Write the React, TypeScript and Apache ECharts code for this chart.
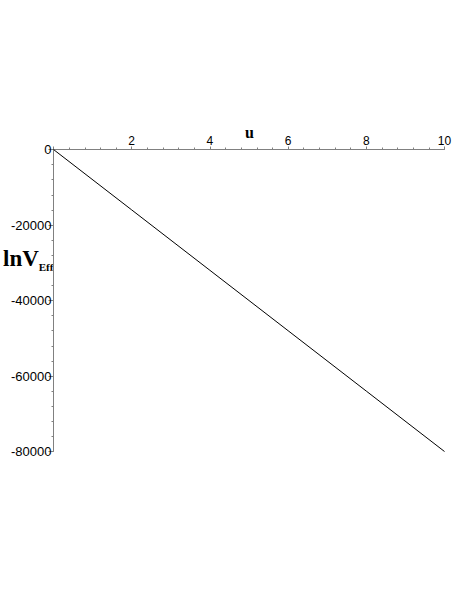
import React, { useEffect, useRef } from "react";
import * as echarts from "echarts";

const uValues = [0, 2, 4, 6, 8, 10];
const lnVEff = [0, -16000, -32000, -48000, -64000, -80000];
const xTicks = [2, 4, 6, 8, 10];
const yTicks = [0, -20000, -40000, -60000, -80000];

export default function App() {
  const ref = useRef<HTMLDivElement>(null);
  useEffect(() => {
    if (!ref.current) return;
    const chart = echarts.init(ref.current, undefined, { renderer: "svg" });
    const axisColor = "#808080";
    chart.setOption({
      animation: false,
      backgroundColor: "#ffffff",
      grid: { left: 53.5, right: 12.5, top: 149.5, bottom: 139.5, containLabel: false },
      xAxis: {
        type: "value",
        min: 0,
        max: 10,
        interval: 2,
        position: "top",
        axisLine: { show: true, onZero: false, lineStyle: { color: axisColor, width: 1 } },
        axisTick: { show: true, length: 3, inside: false, lineStyle: { color: axisColor } },
        minorTick: { show: true, splitNumber: 5, length: 2, lineStyle: { color: axisColor } },
        splitLine: { show: false },
        axisLabel: {
          color: "#000",
          fontFamily: "Liberation Sans",
          fontSize: 12,
          margin: 3,
          formatter: (v: number) => (xTicks.includes(v) ? String(v) : ""),
        },
      },
      yAxis: {
        type: "value",
        min: -80000,
        max: 0,
        interval: 20000,
        axisLine: { show: true, onZero: false, lineStyle: { color: axisColor, width: 1 } },
        axisTick: { show: true, length: 5, lineStyle: { color: axisColor } },
        minorTick: { show: true, splitNumber: 5, length: 2, lineStyle: { color: axisColor } },
        splitLine: { show: false },
        axisLabel: {
          color: "#000",
          fontFamily: "Liberation Sans",
          fontSize: 13,
          margin: 2,
          formatter: (v: number) => (yTicks.includes(v) ? String(v) : ""),
        },
      },
      series: [
        {
          type: "line",
          data: uValues.map((u, i) => [u, lnVEff[i]]),
          showSymbol: false,
          lineStyle: { color: "#000", width: 1 },
        },
      ],
      graphic: [
        {
          type: "text",
          left: 245,
          top: 124,
          style: {
            text: "u",
            font: "bold 16px 'Liberation Serif', serif",
            fill: "#000",
          },
        },
        {
          type: "text",
          left: 3,
          top: 247,
          style: {
            text: "{a|lnV}{b|Eff}",
            fill: "#000",
            rich: {
              a: { font: "bold 23px 'Liberation Serif', serif", fill: "#000" },
              b: {
                font: "bold 11px 'Liberation Serif', serif",
                fill: "#000",
                verticalAlign: "bottom",
                padding: [16, 0, 0, 0],
              },
            },
          },
        },
      ],
    });
    return () => chart.dispose();
  }, []);
  return <div ref={ref} style={{ width: 457, height: 591, position: "absolute", left: 0, top: 0 }} />;
}
